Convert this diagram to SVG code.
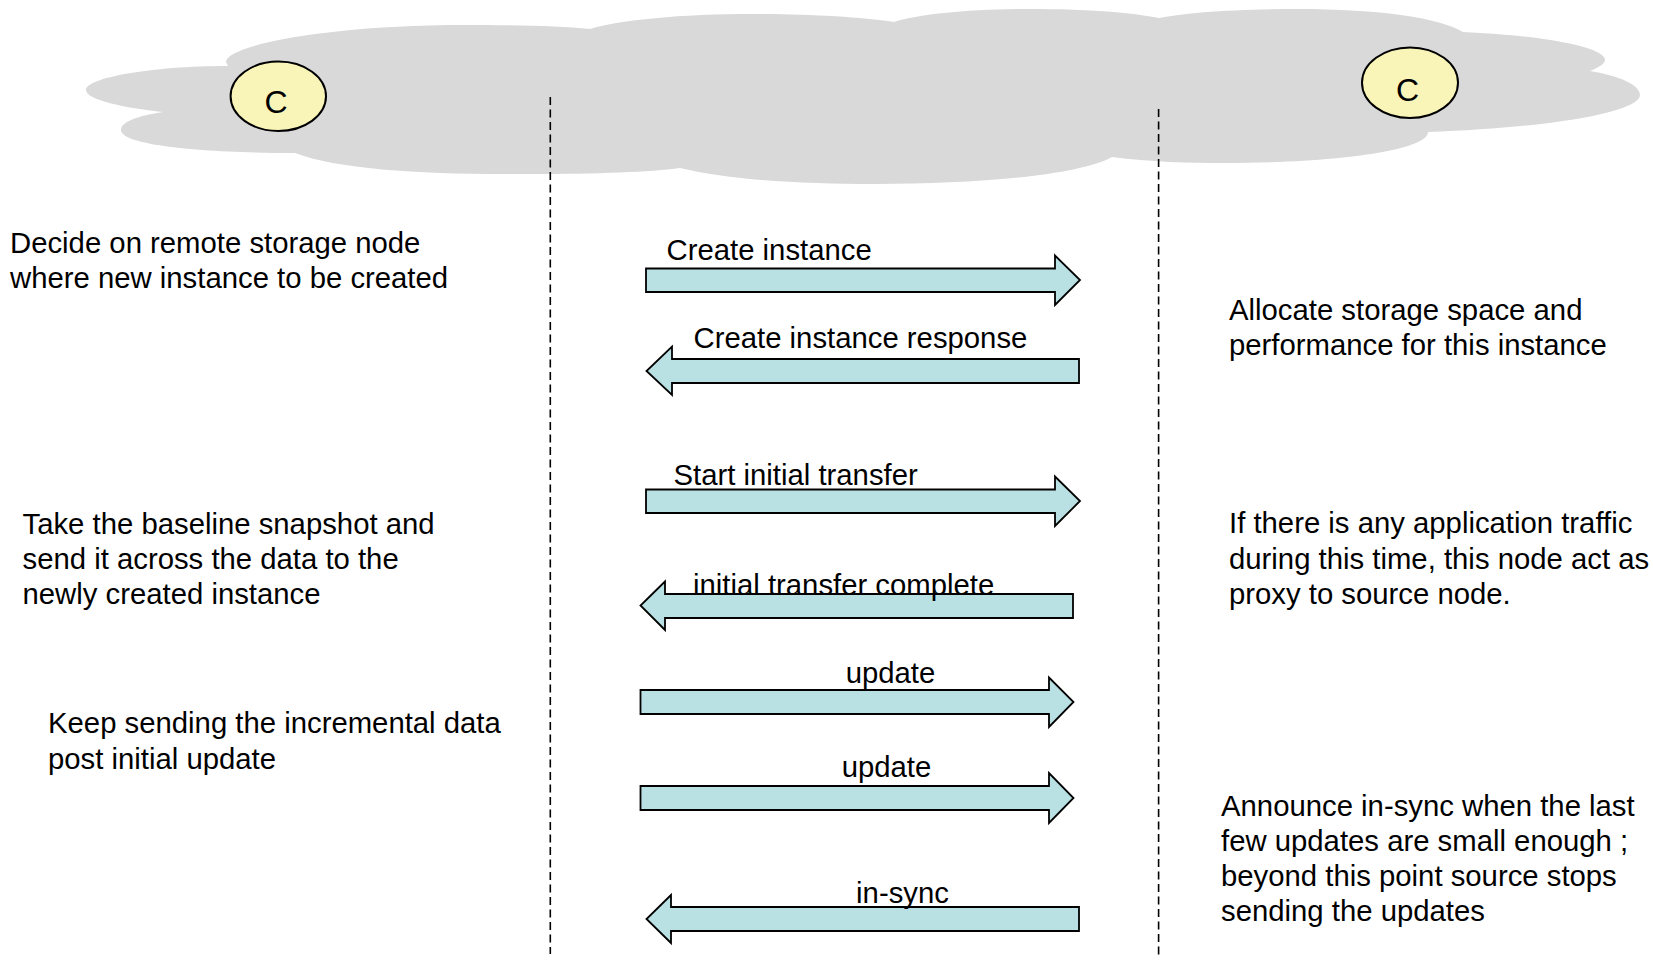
<svg xmlns="http://www.w3.org/2000/svg" width="1653" height="962" viewBox="0 0 1653 962">
  <style>
    text { font-family: "Liberation Sans", Arial, sans-serif; font-size: 29.3px; fill: #000; }
    .node-label { font-size: 32px; text-anchor: middle; }
    .mid { text-anchor: middle; }
    .cloud { fill: #d9d9d9; stroke: none; }
    .endpoint { fill: #f9f5b9; stroke: #000; stroke-width: 2; }
    .lifeline { stroke: #000; stroke-width: 1.6; stroke-dasharray: 8 4.5; fill: none; }
    .msg { fill: #b9e0e3; stroke: #000; stroke-width: 1.8; stroke-linejoin: miter; }
  </style>

  <!-- network cloud behind the two endpoints -->
  <g id="cloud">
    <path class="cloud" d="M 228 66
      C 150 66, 86 78, 86 90
      C 86 100, 125 108, 163 112
      C 130 117, 121 124, 121 130
      C 121 145, 200 153, 295 153
      C 340 170, 430 175, 527 174
      C 600 174, 650 172, 680 168
      C 730 180, 800 184, 875 184
      C 980 184, 1080 175, 1112 157
      C 1150 162, 1190 163, 1223 163
      C 1340 163, 1428 150, 1428 132
      C 1550 128, 1640 112, 1640 95
      C 1640 85, 1620 76, 1590 71
      C 1600 67, 1605 63, 1605 60
      C 1605 48, 1550 36, 1463 32
      C 1440 18, 1380 9, 1297 9
      C 1230 9, 1185 13, 1159 18
      C 1130 12, 1080 9, 1033 9
      C 970 9, 920 14, 894 22
      C 860 17, 810 14, 754 14
      C 680 14, 620 20, 590 29
      C 560 26, 520 25, 464 25
      C 330 25, 226 45, 226 62 Z"/>
  </g>

  <!-- endpoints -->
  <g id="node-source">
    <ellipse class="endpoint" cx="278.3" cy="96.3" rx="47.7" ry="34.7"/>
    <text class="node-label" x="276" y="112.5">C</text>
  </g>
  <g id="node-target">
    <ellipse class="endpoint" cx="1410" cy="82.7" rx="48" ry="35.3"/>
    <text class="node-label" x="1407.5" y="100.5">C</text>
  </g>

  <!-- lifelines -->
  <g id="lifelines">
    <line class="lifeline" x1="550.3" y1="97" x2="550.3" y2="954"/>
    <line class="lifeline" x1="1158.6" y1="109" x2="1158.6" y2="959"/>
  </g>

  <!-- messages exchanged between the two lifelines -->
  <g id="connectors">
    <g id="msg-create">
      <polygon class="msg" points="646,268.5 1055,268.5 1055,255.5 1080,280 1055,305 1055,292 646,292"/>
      <text x="666.5" y="260">Create instance</text>
    </g>
    <g id="msg-create-response">
      <polygon class="msg" points="1079,359 672,359 672,346.5 646.5,371 672,395 672,383 1079,383"/>
      <text x="693.5" y="348">Create instance response</text>
    </g>
    <g id="msg-start-transfer">
      <polygon class="msg" points="646,489.5 1055,489.5 1055,476.5 1080,501 1055,526 1055,513 646,513"/>
      <text x="673.5" y="485">Start initial transfer</text>
    </g>
    <g id="msg-transfer-complete">
      <polygon class="msg" points="1073,594 665,594 665,581.5 640.5,605.5 665,630 665,618 1073,618"/>
      <text x="693" y="594.5">initial transfer complete</text>
    </g>
    <g id="msg-update-1">
      <polygon class="msg" points="640.5,690 1049,690 1049,677.5 1073.5,702 1049,727 1049,714 640.5,714"/>
      <text class="mid" x="890.5" y="683">update</text>
    </g>
    <g id="msg-update-2">
      <polygon class="msg" points="640.5,786 1049,786 1049,773 1073.5,798 1049,823 1049,810 640.5,810"/>
      <text class="mid" x="886.5" y="776.5">update</text>
    </g>
    <g id="msg-in-sync">
      <polygon class="msg" points="1079,907 671,907 671,895 646.5,919 671,943 671,931 1079,931"/>
      <text class="mid" x="902.5" y="902.5">in-sync</text>
    </g>
  </g>

  <!-- source-side notes -->
  <g id="note-decide">
    <text x="10" y="252.5">Decide on remote storage node</text>
    <text x="10" y="287.5">where new instance to be created</text>
  </g>
  <g id="note-baseline">
    <text x="22.5" y="533.5">Take the baseline snapshot and</text>
    <text x="22.5" y="569">send it across the data to the</text>
    <text x="22.5" y="604">newly created instance</text>
  </g>
  <g id="note-incremental">
    <text x="48" y="733">Keep sending the incremental data</text>
    <text x="48" y="769">post initial update</text>
  </g>

  <!-- target-side notes -->
  <g id="note-allocate">
    <text x="1229" y="319.5">Allocate storage space and</text>
    <text x="1229" y="354.5">performance for this instance</text>
  </g>
  <g id="note-proxy">
    <text x="1229" y="533">If there is any application traffic</text>
    <text x="1229" y="568.5">during this time, this node act as</text>
    <text x="1229" y="603.5">proxy to source node.</text>
  </g>
  <g id="note-in-sync">
    <text x="1221" y="816">Announce in-sync when the last</text>
    <text x="1221" y="851">few updates are small enough ;</text>
    <text x="1221" y="886">beyond this point source stops</text>
    <text x="1221" y="921">sending the updates</text>
  </g>
</svg>
